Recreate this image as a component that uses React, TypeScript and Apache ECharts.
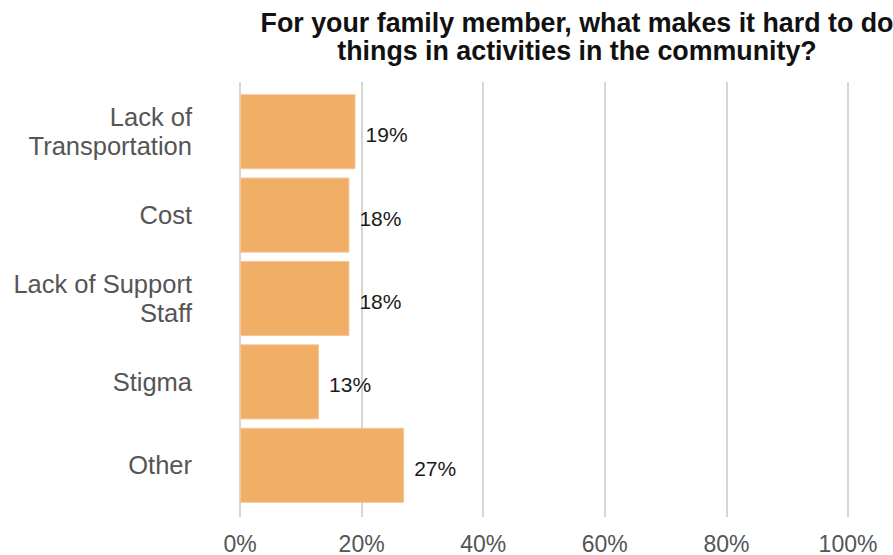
import React, { useEffect, useRef } from "react";
import * as echarts from "echarts";

const categories = [
  "Lack of\nTransportation",
  "Cost",
  "Lack of Support\nStaff",
  "Stigma",
  "Other",
];
const values = [19, 18, 18, 13, 27];
const xTicks = [0, 20, 40, 60, 80, 100];
const titleText =
  "For your family member, what makes it hard to do\nthings in activities in the community?";

const FONT = "'Liberation Sans', Arial, sans-serif";
const GRID_COLOR = "#c8c8c8";

export default function App() {
  const ref = useRef<HTMLDivElement>(null);
  useEffect(() => {
    if (!ref.current) return;
    const chart = echarts.init(ref.current, undefined, { renderer: "svg" });
    chart.setOption({
      animation: false,
      backgroundColor: "#ffffff",
      title: {
        text: titleText,
        left: 572,
        top: 4,
        textAlign: "center",
        textStyle: {
          fontFamily: FONT,
          fontWeight: "bold",
          fontSize: 26.8,
          lineHeight: 28,
          color: "#111111",
        },
      },
      grid: { left: 240, right: 45, top: 90, bottom: 45, containLabel: false },
      xAxis: [
        {
          type: "value",
          position: "bottom",
          min: xTicks[0],
          max: xTicks[xTicks.length - 1],
          interval: 20,
          axisLine: { show: false },
          axisTick: {
            show: true,
            length: 10,
            lineStyle: { color: GRID_COLOR, width: 1.5 },
          },
          splitLine: { show: true, lineStyle: { color: GRID_COLOR, width: 1.5 } },
          axisLabel: {
            formatter: "{value}%",
            margin: 25,
            fontFamily: FONT,
            fontSize: 23,
            color: "#555555",
          },
        },
        {
          type: "value",
          position: "top",
          min: xTicks[0],
          max: xTicks[xTicks.length - 1],
          interval: 20,
          axisLine: { show: false },
          axisTick: {
            show: true,
            length: 8,
            lineStyle: { color: GRID_COLOR, width: 1.5 },
          },
          splitLine: { show: false },
          axisLabel: { show: false },
        },
      ],
      yAxis: {
        type: "category",
        data: categories,
        inverse: true,
        axisLine: { show: false },
        axisTick: { show: false },
        axisLabel: {
          margin: 48,
          fontFamily: FONT,
          fontSize: 25.5,
          lineHeight: 29,
          padding: [7, 0, 0, 0],
          color: "#555555",
          align: "right",
        },
      },
      series: [
        {
          type: "bar",
          data: values,
          xAxisIndex: 0,
          barCategoryGap: "10%",
          itemStyle: { color: "#F0AE67", borderColor: "#F5C796", borderWidth: 1 },
          label: {
            show: true,
            position: "right",
            distance: 10,
            offset: [0, 3],
            formatter: "{c}%",
            fontFamily: FONT,
            fontSize: 21,
            color: "#1a1a1a",
          },
        },
      ],
    });
    return () => chart.dispose();
  }, []);
  return (
    <div
      ref={ref}
      style={{ position: "fixed", left: 0, top: 0, width: 893, height: 555 }}
    />
  );
}
